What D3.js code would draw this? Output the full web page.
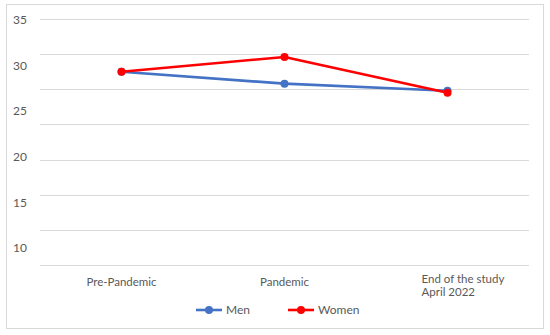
<!DOCTYPE html>
<html>
<head>
<meta charset="utf-8">
<script src="https://cdn.jsdelivr.net/npm/d3@7"></script>
<style>
  body { margin: 0; background: #fff; }
  text { font-family: Lato, "Open Sans", sans-serif; fill: #595959; }
</style>
</head>
<body>
<svg width="550" height="335"></svg>
<script>
var categories = ["Pre-Pandemic", "Pandemic", "End of the study\nApril 2022"];
var men = [27.5, 25.8, 24.8];
var women = [27.5, 29.6, 24.5];
var gridValues = [0, 5, 10, 15, 20, 25, 30, 35];
var tickLabels = [10, 15, 20, 25, 30, 35];

var svg = d3.select("svg");

// chart border
svg.append("rect")
    .attr("x", 6.5).attr("y", 4.5)
    .attr("width", 537).attr("height", 324)
    .attr("fill", "#fff")
    .attr("stroke", "#d9d9d9");

var x = d3.scalePoint()
    .domain(categories)
    .range([40, 529])
    .padding(0.5);

var y = d3.scaleLinear()
    .domain([0, 35])
    .range([265, 19]);

// the printed labels sit on their own spacing in the picture
var yLabel = d3.scaleLinear()
    .domain([10, 35])
    .range([248, 20]);

svg.append("g")
  .selectAll("line")
  .data(gridValues)
  .enter().append("line")
    .attr("x1", 40).attr("x2", 529)
    .attr("y1", function(d) { return Math.round(y(d)) + 0.5; })
    .attr("y2", function(d) { return Math.round(y(d)) + 0.5; })
    .attr("stroke", "#d9d9d9")
    .attr("stroke-width", 1);

svg.append("g")
  .selectAll("text")
  .data(tickLabels)
  .enter().append("text")
    .attr("x", 27)
    .attr("y", function(d) { return yLabel(d); })
    .attr("dy", "0.35em")
    .attr("text-anchor", "end")
    .style("font-size", "12px")
    .text(function(d) { return d; });

// category labels
var catG = svg.append("g")
  .selectAll("text")
  .data(categories)
  .enter().append("text")
    .attr("x", function(d, i) { return i === 2 ? x(d) - 26 : x(d); })
    .attr("y", function(d, i) { return i === 2 ? 283 : 286; })
    .attr("text-anchor", function(d, i) { return i === 2 ? "start" : "middle"; })
    .style("font-size", "11.5px");

catG.each(function(d) {
  var t = d3.select(this);
  d.split("\n").forEach(function(line, j) {
    t.append("tspan")
      .attr("x", t.attr("x"))
      .attr("dy", j === 0 ? 0 : "1.15em")
      .text(line);
  });
});

var series = [
  {name: "Men", values: men, color: "#4472C4"},
  {name: "Women", values: women, color: "#FF0000"}
];

var line = d3.line()
    .x(function(d, i) { return x(categories[i]); })
    .y(function(d) { return y(d); });

series.forEach(function(s) {
  svg.append("path")
      .datum(s.values)
      .attr("d", line)
      .attr("fill", "none")
      .attr("stroke", s.color)
      .attr("stroke-width", 2.6)
      .attr("stroke-linejoin", "round");
  svg.append("g")
    .selectAll("circle")
    .data(s.values)
    .enter().append("circle")
      .attr("cx", function(d, i) { return x(categories[i]); })
      .attr("cy", function(d) { return y(d); })
      .attr("r", 4)
      .attr("fill", s.color);
});

// legend
var legend = svg.append("g")
  .selectAll("g")
  .data(series)
  .enter().append("g")
    .attr("transform", function(d, i) { return "translate(" + (196 + i * 92) + ",310)"; });

legend.append("line")
    .attr("x1", 0).attr("x2", 26)
    .attr("stroke", function(d) { return d.color; })
    .attr("stroke-width", 2.6);
legend.append("circle")
    .attr("cx", 13).attr("r", 4)
    .attr("fill", function(d) { return d.color; });
legend.append("text")
    .attr("x", 30)
    .attr("dy", "0.35em")
    .style("font-size", "12px")
    .text(function(d) { return d.name; });
</script>
</body>
</html>
